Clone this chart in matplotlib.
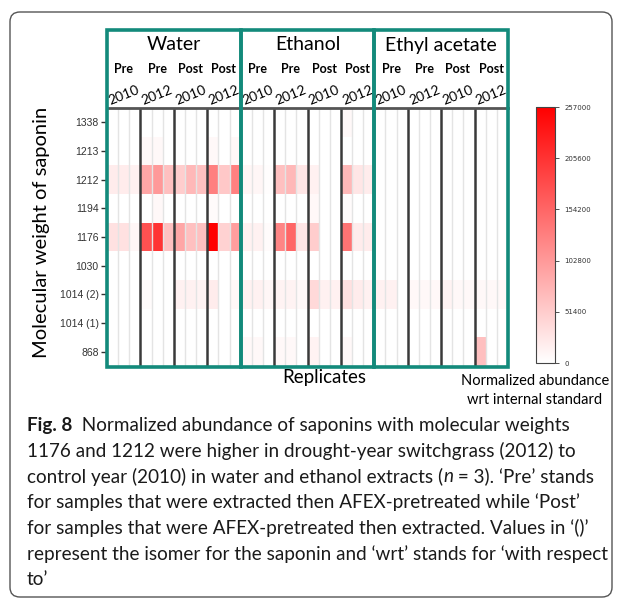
import numpy as np
import matplotlib
matplotlib.use('Agg')
import matplotlib.pyplot as plt
from matplotlib.colors import LinearSegmentedColormap
from matplotlib.patches import Rectangle, FancyBboxPatch
from matplotlib.transforms import blended_transform_factory

# rows top -> bottom
saponins = ['1338', '1213', '1212', '1194', '1176', '1030', '1014 (2)', '1014 (1)', '868']
solvents = ['Water', 'Ethanol', 'Ethyl acetate']
treatments = ['Pre', 'Pre', 'Post', 'Post']
years = ['2010', '2012', '2010', '2012']
n_rep = 3

# 9 saponins x 12 samples (4 groups x 3 replicates), normalized abundance
water = [
    [0, 0, 0, 0, 0, 0, 0, 0, 0, 0, 0, 0],
    [0, 0, 0, 8000, 8000, 0, 0, 0, 0, 8000, 0, 8000],
    [20000, 20000, 15000, 90000, 103000, 64000, 51000, 72000, 64000, 128000, 56000, 128000],
    [0, 0, 0, 0, 8000, 0, 0, 0, 0, 5000, 0, 0],
    [31000, 31000, 10000, 175000, 205000, 64000, 90000, 64000, 64000, 257000, 46000, 98000],
    [0, 0, 0, 0, 0, 0, 0, 0, 0, 0, 0, 0],
    [0, 0, 0, 5000, 0, 0, 15000, 15000, 13000, 20000, 0, 8000],
    [0, 0, 0, 0, 0, 0, 0, 0, 0, 0, 0, 0],
    [0, 0, 0, 0, 0, 0, 0, 0, 0, 0, 0, 0],
]
ethanol = [
    [0, 0, 0, 0, 0, 0, 0, 0, 0, 8000, 0, 0],
    [0, 0, 0, 0, 0, 0, 0, 0, 0, 0, 0, 0],
    [10000, 10000, 3000, 64000, 72000, 26000, 15000, 0, 0, 72000, 26000, 20000],
    [0, 0, 0, 0, 0, 0, 8000, 0, 0, 5000, 0, 0],
    [15000, 15000, 5000, 123000, 154000, 26000, 51000, 0, 0, 141000, 20000, 20000],
    [0, 0, 0, 0, 0, 0, 0, 0, 0, 0, 0, 0],
    [15000, 15000, 10000, 13000, 13000, 8000, 39000, 15000, 15000, 31000, 20000, 15000],
    [0, 0, 0, 0, 0, 0, 0, 0, 0, 0, 0, 0],
    [8000, 8000, 0, 8000, 8000, 0, 13000, 0, 0, 8000, 0, 0],
]
ethyl_acetate = [
    [0, 0, 0, 0, 0, 0, 0, 0, 0, 0, 0, 0],
    [0, 0, 0, 0, 0, 0, 0, 0, 0, 0, 0, 0],
    [0, 0, 0, 0, 0, 0, 0, 0, 0, 0, 0, 0],
    [0, 0, 0, 0, 0, 0, 0, 0, 0, 0, 0, 0],
    [0, 0, 0, 0, 0, 0, 0, 0, 0, 0, 0, 0],
    [0, 0, 0, 0, 0, 0, 0, 0, 0, 0, 0, 0],
    [15000, 15000, 0, 8000, 8000, 8000, 13000, 8000, 8000, 8000, 8000, 8000],
    [0, 0, 0, 0, 0, 0, 0, 0, 0, 0, 0, 0],
    [0, 0, 0, 0, 0, 0, 0, 0, 0, 64000, 0, 0],
]
vmax = 257000
cbar_ticks = [0, 51400, 102800, 154200, 205600, 257000]

caption = [
    [("Fig. 8", 'bold'), ("  Normalized abundance of saponins with molecular weights", None)],
    [("1176 and 1212 were higher in drought-year switchgrass (2012) to", None)],
    [("control year (2010) in water and ethanol extracts (", None), ("n", 'italic'),
     (" = 3). \u2018Pre\u2019 stands", None)],
    [("for samples that were extracted then AFEX-pretreated while \u2018Post\u2019", None)],
    [("for samples that were AFEX-pretreated then extracted. Values in \u2018()\u2019", None)],
    [("represent the isomer for the saponin and \u2018wrt\u2019 stands for \u2018with respect", None)],
    [("to\u2019", None)],
]

data = np.hstack([water, ethanol, ethyl_acetate])
n_cols = data.shape[1]
group = len(treatments) * n_rep

W, H = 622, 605
fig = plt.figure(figsize=(W / 100, H / 100), dpi=100)


def fx(px):
    return px / W


def fy(py):
    return 1 - py / H


teal = '#138a7b'
font = 'Lato'

# outer rounded frame
fig.patches.append(FancyBboxPatch((fx(10), fy(597)), fx(612) - fx(10), fy(12) - fy(597),
                                  boxstyle='round,pad=0,rounding_size=0.016',
                                  transform=fig.transFigure, fill=False,
                                  edgecolor='#555555', lw=1))

ax = fig.add_axes([fx(107), fy(366), fx(508) - fx(107), fy(108) - fy(366)])
cmap = LinearSegmentedColormap.from_list('white_red', ['#ffffff', '#ff0000'])
mesh = ax.pcolormesh(data, cmap=cmap, vmin=0, vmax=vmax)
ax.set_xlim(0, n_cols)
ax.set_ylim(len(saponins), 0)
for s in ax.spines.values():
    s.set_visible(False)
ax.set_xticks([])
ax.set_yticks(np.arange(len(saponins)) + 0.5)
ax.set_yticklabels(saponins, fontsize=7.5, family='Liberation Sans', color='#333333')
ax.tick_params(axis='y', length=4, width=1, color='#333333', pad=2)

# replicate and group separators
for c in range(1, n_cols):
    if c % group == 0:
        continue
    if c % n_rep == 0:
        ax.axvline(c, color='#3a3a3a', lw=1.8, zorder=3)
    else:
        ax.axvline(c, color='#e4e4e4', lw=1, zorder=2)
ax.axhline(0, color='#555555', lw=2, zorder=3, clip_on=False)

tr = blended_transform_factory(ax.transData, fig.transFigure)
for i, name in enumerate(solvents):
    x0 = i * group
    ax.add_patch(Rectangle((x0, fy(367)), group, fy(30) - fy(367), transform=tr,
                           fill=False, edgecolor=teal, lw=2.6, clip_on=False, zorder=5))
    ax.text(x0 + group / 2, fy(45), name, transform=tr, ha='center', va='center',
            fontsize=14, family=font)
    for j, (t, y) in enumerate(zip(treatments, years)):
        cx = x0 + j * n_rep + n_rep / 2
        ax.text(cx, fy(69), t, transform=tr, ha='center', va='center',
                fontsize=9, fontweight='bold', family=font)
        ax.text(cx, fy(95), y, transform=tr, ha='center', va='center',
                fontsize=10, rotation=22, family=font)

fig.text(fx(42), fy(232), 'Molecular weight of saponin', rotation=90,
         ha='center', va='center', fontsize=14.5, family=font)
fig.text(fx(324), fy(378), 'Replicates', ha='center', va='center', fontsize=13.5, family=font)
fig.text(fx(535), fy(381), 'Normalized abundance', ha='center', va='center', fontsize=10.5, family=font)
fig.text(fx(535), fy(400), 'wrt internal standard', ha='center', va='center', fontsize=10.5, family=font)

# colour bar
cax = fig.add_axes([fx(536), fy(363), fx(555) - fx(536), fy(107) - fy(363)])
cb = fig.colorbar(mesh, cax=cax, ticks=cbar_ticks)
cb.ax.tick_params(labelsize=5, length=3, width=0.6, color='#333333', labelcolor='#333333')
cb.outline.set_edgecolor('#444444')
cb.outline.set_linewidth(0.8)

# caption
renderer = fig.canvas.get_renderer()
inv = fig.transFigure.inverted()
for k, parts in enumerate(caption):
    x = fx(27)
    y = fy(425 + k * 25.8)
    for s, style in parts:
        kw = {}
        if style == 'bold':
            kw['fontweight'] = 'bold'
        elif style == 'italic':
            kw['fontstyle'] = 'italic'
        t = fig.text(x, y, s, ha='left', va='center', fontsize=13.6, family=font,
                     color='#1a1a1a', **kw)
        bb = t.get_window_extent(renderer)
        x = inv.transform((bb.x1, bb.y0))[0]

fig.savefig('out.png', dpi=100)
